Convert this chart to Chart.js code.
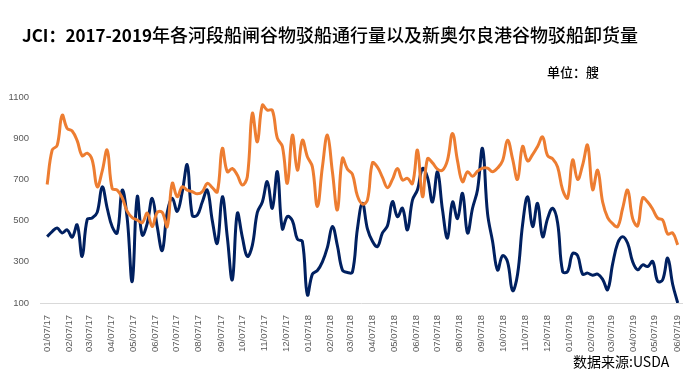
<!DOCTYPE html>
<html><head><meta charset="utf-8">
<script src="https://cdn.jsdelivr.net/npm/chart.js@4"></script>
<style>
body{margin:0;background:#fff;}
#wrap{position:relative;width:699px;height:375px;overflow:hidden;}
canvas{position:absolute;left:0;top:0;}
.t{position:absolute;white-space:nowrap;font-family:'Noto Sans CJK SC',sans-serif;color:#000;line-height:1;}
</style></head>
<body>
<div id="wrap">
<canvas id="c" width="699" height="375"></canvas>
<div class="t" id="title" style="left:22px;top:25px;"><span style="font-weight:700;font-size:17px;">JCI：2017-2019</span><span style="font-size:18px;font-weight:500;">年各河段船闸谷物驳船通行量以及新奥尔良港谷物驳船卸货量</span></div>
<div class="t" style="left:547px;top:65px;font-size:13px;font-weight:500;">单位：艘</div>
<div class="t" style="left:573px;top:354px;font-size:14px;">数据来源:USDA</div>
</div>
<script>
// month tick labels (mm/dd/yy)
const monthLabels = ['01/07/17','02/07/17','03/07/17','04/07/17','05/07/17','06/07/17','07/07/17','08/07/17','09/07/17','10/07/17','11/07/17','12/07/17',
  '01/07/18','02/07/18','03/07/18','04/07/18','05/07/18','06/07/18','07/07/18','08/07/18','09/07/18','10/07/18','11/07/18','12/07/18',
  '01/07/19','02/07/19','03/07/19','04/07/19','05/07/19','06/07/19'];
const startDate = '01/07/17';
// weekly series (first week = 01/07/17)
const orangeValues = [675,842,865,1011,947,935,888,815,827,794,
  664,740,842,655,648,610,545,515,503,490,
  536,471,540,540,471,681,616,664,648,640,
  630,640,681,660,640,850,737,753,721,673,
  713,1020,882,1060,1036,1036,900,860,681,915,
  745,890,810,761,568,760,915,737,552,802,
  750,725,620,580,600,780,760,710,660,700,
  753,697,705,680,842,616,800,780,750,745,
  794,923,790,689,737,715,740,755,755,737,
  755,790,890,800,700,860,790,820,860,906,
  815,800,760,650,610,794,700,770,866,650,
  745,590,515,485,471,560,648,510,475,610,
  590,555,512,503,435,440,382];
const navyValues = [422,447,464,440,455,420,479,326,505,513,
  540,664,560,470,440,648,510,205,616,430,
  487,608,470,355,540,608,545,640,770,525,
  527,590,648,500,390,616,420,213,535,420,
  326,380,540,590,689,560,737,460,520,500,
  410,398,140,240,258,300,370,471,378,260,
  248,250,460,584,460,400,374,440,475,592,
  519,560,455,600,650,753,710,590,737,552,
  415,590,510,632,440,560,650,850,535,400,
  260,330,300,160,240,480,616,471,584,422,
  510,560,490,253,253,340,330,240,245,235,
  240,215,165,290,390,422,390,300,261,285,
  277,302,205,213,318,190,100];
const yTicks = [100,300,500,700,900,1100];

function dayOf(lbl){const [m,d,y]=lbl.split('/').map(Number);return Date.UTC(2000+y,m-1,d)/86400000;}
const day0 = dayOf(startDate);
const tickDays = monthLabels.map(l=>dayOf(l)-day0);
const tickMap = {}; tickDays.forEach((d,i)=>tickMap[d]=monthLabels[i]);
const toPts = arr => arr.map((v,i)=>({x:i*7,y:v}));

new Chart(document.getElementById('c'),{
  type:'line',
  data:{datasets:[
    {data:toPts(orangeValues),borderColor:'#ED7D31',borderWidth:3,pointRadius:0,tension:0.4,fill:false},
    {data:toPts(navyValues),borderColor:'#002060',borderWidth:3,pointRadius:0,tension:0.4,fill:false}
  ]},
  options:{
    responsive:false,animation:false,devicePixelRatio:1,
    layout:{padding:{top:97,left:0,right:17,bottom:0}},
    plugins:{legend:{display:false},title:{display:false},tooltip:{enabled:false}},
    scales:{
      x:{type:'linear',min:-10,max:888,
        grid:{display:false},border:{display:true,color:'#d9d9d9',width:1},
        afterBuildTicks:s=>{s.ticks=tickDays.map(v=>({value:v}));},
        afterFit:s=>{s.height=72;},
        ticks:{autoSkip:false,maxRotation:90,minRotation:90,padding:4,color:'#595959',
          font:{family:'Liberation Sans',size:9.5},callback:v=>tickMap[v]||''}},
      y:{min:100,max:1100,
        grid:{display:false},border:{display:false},
        afterBuildTicks:s=>{s.ticks=yTicks.map(v=>({value:v}));},
        afterFit:s=>{s.width=40;},
        ticks:{padding:3,color:'#595959',font:{family:'Liberation Sans',size:9.5},callback:v=>String(v)}}
    }
  }
});
</script>
</body></html>
